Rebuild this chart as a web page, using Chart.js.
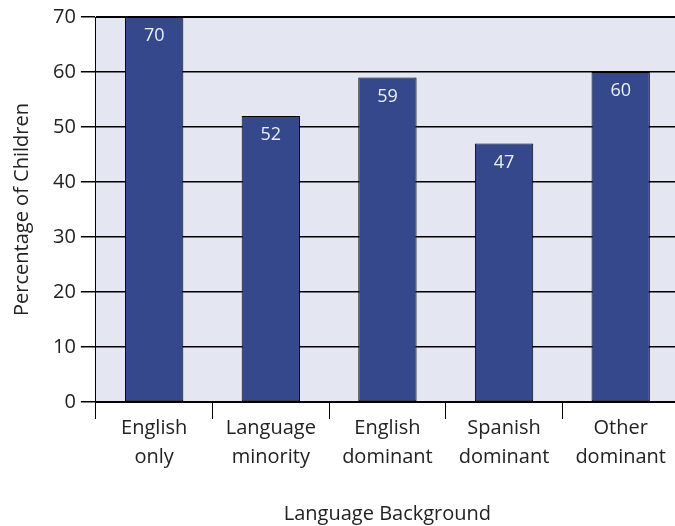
<!DOCTYPE html>
<html>
<head>
<meta charset="utf-8">
<script src="https://cdn.jsdelivr.net/npm/chart.js@4/dist/chart.umd.min.js"></script>
<style>
  html, body { margin: 0; padding: 0; background: #fff; overflow: hidden; }
  #wrap { width: 679px; height: 526px; position: relative; }
</style>
</head>
<body>
<div id="wrap"><canvas id="myChart"></canvas></div>
<script>
const categories = [
  ["English", "only"],
  ["Language", "minority"],
  ["English", "dominant"],
  ["Spanish", "dominant"],
  ["Other", "dominant"],
];
const percentages = [70, 52, 59, 47, 60];
const yTicks = [0, 10, 20, 30, 40, 50, 60, 70];

const fontFam = "'Open Sans', sans-serif";

// plot background + heavy top line
const plotBg = {
  id: "plotBg",
  beforeDraw(chart) {
    const a = chart.chartArea;
    const ctx = chart.ctx;
    ctx.save();
    ctx.fillStyle = "#e4e7f1";
    ctx.fillRect(a.left, a.top, a.right - a.left, a.bottom - a.top);
    ctx.restore();
  },
  afterDraw(chart) {
    const a = chart.chartArea;
    const ctx = chart.ctx;
    ctx.save();
    ctx.strokeStyle = "#000";
    ctx.lineWidth = 2;
    ctx.beginPath();
    ctx.moveTo(a.left, a.top);
    ctx.lineTo(a.right, a.top);
    ctx.stroke();
    ctx.restore();
  },
};

// value inside top of each bar
const barValues = {
  id: "barValues",
  afterDatasetsDraw(chart) {
    const ctx = chart.ctx;
    const meta = chart.getDatasetMeta(0);
    ctx.save();
    ctx.fillStyle = "#eceef6";
    ctx.font = "18px " + fontFam;
    ctx.textAlign = "center";
    ctx.textBaseline = "middle";
    meta.data.forEach((bar, i) => {
      ctx.fillText(String(percentages[i]), bar.x, bar.y + 19);
    });
    ctx.restore();
  },
};

new Chart(document.getElementById("myChart").getContext("2d"), {
  type: "bar",
  data: {
    labels: categories,
    datasets: [{
      data: percentages,
      backgroundColor: "#34488b",
      borderColor: "#000",
      borderWidth: 1,
      borderSkipped: false,
      barPercentage: 1,
      categoryPercentage: 0.5,
    }],
  },
  options: {
    responsive: true,
    maintainAspectRatio: false,
    animation: false,
    layout: { padding: { top: 14, right: 0, left: 10, bottom: 0 } },
    plugins: { legend: { display: false }, tooltip: { enabled: false } },
    scales: {
      x: {
        offset: true,
        border: { display: true, color: "#000", width: 2 },
        grid: {
          offset: true,
          drawOnChartArea: false,
          drawTicks: true,
          tickLength: 17,
          color: "#000",
          lineWidth: 1,
        },
        ticks: { color: "#222", font: { family: fontFam, size: 20, lineHeight: 1.45 }, padding: -5, maxRotation: 0 },
        title: {
          display: true,
          text: "Language Background",
          color: "#222",
          font: { family: fontFam, size: 20 },
          padding: { top: 35, bottom: 0 },
        },
      },
      y: {
        min: 0,
        max: 70,
        afterBuildTicks(axis) { axis.ticks = yTicks.map(v => ({ value: v })); },
        border: { display: true, color: "#000", width: 1 },
        grid: { color: "#000", lineWidth: 1.5, drawTicks: true, tickLength: 15 },
        ticks: { color: "#222", font: { family: fontFam, size: 20 }, padding: 5 },
        title: {
          display: true,
          text: "Percentage of Children",
          color: "#222",
          font: { family: fontFam, size: 20 },
          padding: { top: 0, bottom: 14 },
        },
      },
    },
  },
  plugins: [plotBg, barValues],
});
</script>
</body>
</html>
